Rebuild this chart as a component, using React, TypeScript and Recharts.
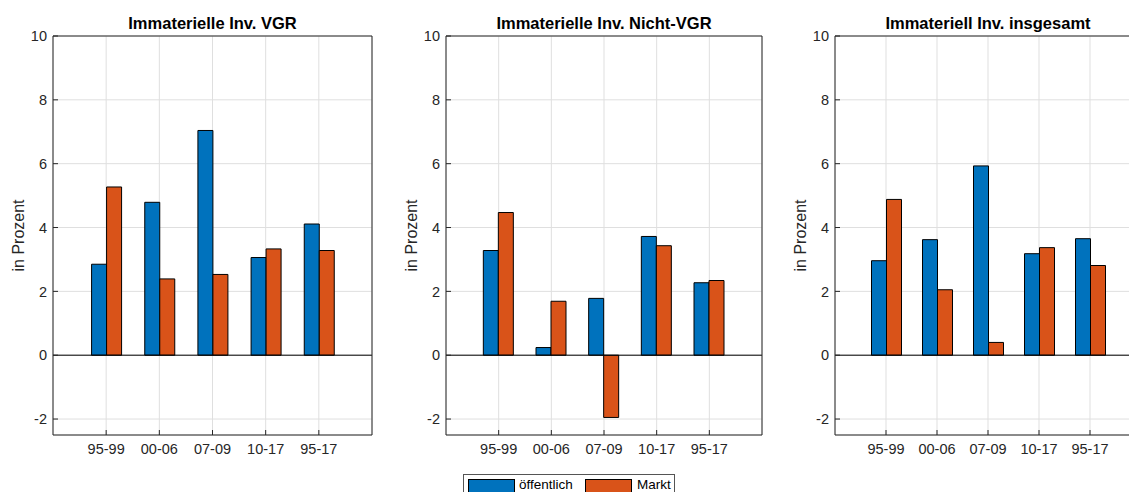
import { BarChart, Bar, XAxis, YAxis, CartesianGrid, ReferenceLine, Label } from 'recharts';

const categories = ['95-99', '00-06', '07-09', '10-17', '95-17'];
const seriesNames = ['öffentlich', 'Markt'];
const yTicks = [-2, 0, 2, 4, 6, 8, 10];

const vgrOeffentlich = [2.85, 4.79, 7.04, 3.06, 4.11];
const vgrMarkt = [5.27, 2.39, 2.53, 3.33, 3.28];
const nichtVgrOeffentlich = [3.28, 0.24, 1.78, 3.72, 2.27];
const nichtVgrMarkt = [4.47, 1.69, -1.95, 3.43, 2.34];
const gesamtOeffentlich = [2.96, 3.62, 5.93, 3.18, 3.65];
const gesamtMarkt = [4.88, 2.05, 0.4, 3.37, 2.81];

const BLUE = '#0072BD';
const ORANGE = '#D95319';
const AXIS = '#262626';
const GRID = '#dfdfdf';
const FONT = '"Liberation Sans", Arial, Helvetica, sans-serif';

const toRows = (pub: number[], mkt: number[]) =>
  categories.map((cat, i) => ({ cat, pub: pub[i], mkt: mkt[i] }));

const panels = [
  { title: 'Immaterielle Inv. VGR', data: toRows(vgrOeffentlich, vgrMarkt), plotLeft: 53, plotRight: 372 },
  { title: 'Immaterielle Inv. Nicht-VGR', data: toRows(nichtVgrOeffentlich, nichtVgrMarkt), plotLeft: 446, plotRight: 762 },
  { title: 'Immateriell Inv. insgesamt', data: toRows(gesamtOeffentlich, gesamtMarkt), plotLeft: 835, plotRight: 1141 },
];

const PLOT_TOP = 36;
const PLOT_BOTTOM = 435;
const HEIGHT = 492;
const YAXIS_W = 60;

function YLabel(props: any) {
  const vb = props.viewBox || {};
  const cx = vb.x + vb.width - 35;
  const cy = vb.y + vb.height / 2;
  return (
    <text
      x={cx}
      y={cy}
      transform={`rotate(-90, ${cx}, ${cy})`}
      textAnchor="middle"
      dominantBaseline="central"
      fontSize={16}
      fill={AXIS}
      fontFamily={FONT}
    >
      in Prozent
    </text>
  );
}

function Panel({ title, data, plotLeft, plotRight }: { title: string; data: any[]; plotLeft: number; plotRight: number }) {
  const plotW = plotRight - plotLeft;
  const width = plotW + YAXIS_W + 2;
  const pad = plotW / 12;
  return (
    <div style={{ position: 'absolute', left: plotLeft - YAXIS_W, top: 0 }}>
      <BarChart
        width={width}
        height={HEIGHT}
        data={data}
        barSize={15}
        barGap={0}
        margin={{ top: PLOT_TOP - 2, right: 0, left: 0, bottom: HEIGHT - PLOT_BOTTOM - 30 }}
        style={{ fontFamily: FONT }}
      >
        <CartesianGrid stroke={GRID} strokeWidth={1} />
        <XAxis
          dataKey="cat"
          padding={{ left: pad, right: pad }}
          height={30}
          interval={0}
          tickSize={-5}
          tickMargin={14}
          tick={{ fill: AXIS, fontSize: 14.5 }}
          stroke={AXIS}
          tickLine={{ stroke: AXIS }}
          axisLine={{ stroke: AXIS }}
        />
        <XAxis
          xAxisId="top"
          orientation="top"
          dataKey="cat"
          padding={{ left: pad, right: pad }}
          height={2}
          interval={0}
          tickSize={-5}
          tick={false}
          stroke={AXIS}
          axisLine={{ stroke: AXIS }}
          tickLine={{ stroke: AXIS }}
        >
          <Label value={title} position="top" offset={5} fontSize={16.5} fontWeight="bold" fill="#000" />
        </XAxis>
        <YAxis
          width={YAXIS_W}
          domain={[-2.5, 10]}
          ticks={yTicks}
          interval={0}
          allowDataOverflow
          tickSize={-5}
          tickMargin={11}
          tick={{ fill: AXIS, fontSize: 14.5 }}
          stroke={AXIS}
          axisLine={{ stroke: AXIS }}
          tickLine={{ stroke: AXIS }}
        >
          <Label content={YLabel} />
        </YAxis>
        <YAxis
          yAxisId="r"
          orientation="right"
          width={2}
          domain={[-2.5, 10]}
          ticks={yTicks}
          interval={0}
          allowDataOverflow
          tickSize={-5}
          tick={false}
          stroke={AXIS}
          axisLine={{ stroke: AXIS }}
          tickLine={{ stroke: AXIS }}
        />
        <Bar dataKey="pub" name={seriesNames[0]} fill={BLUE} stroke="#000" strokeWidth={1} isAnimationActive={false} />
        <Bar dataKey="mkt" name={seriesNames[1]} fill={ORANGE} stroke="#000" strokeWidth={1} isAnimationActive={false} />
        <ReferenceLine y={0} stroke="#000" strokeWidth={1} />
      </BarChart>
    </div>
  );
}

function LegendBox() {
  const patch = (color: string) => ({
    position: 'absolute' as const,
    left: 0,
    top: 0,
    width: 47,
    height: 18,
    background: color,
    border: '1px solid #000',
    boxSizing: 'border-box' as const,
  });
  const label = (left: number) => ({
    position: 'absolute' as const,
    left,
    top: -3,
    lineHeight: '18px',
  });
  return (
    <div
      style={{
        position: 'absolute',
        left: 463,
        top: 474,
        width: 212,
        height: 30,
        border: '1px solid #555',
        boxSizing: 'border-box',
        background: '#fff',
        fontFamily: FONT,
        fontSize: 13.5,
        color: '#000',
        whiteSpace: 'nowrap',
      }}
    >
      <div style={{ position: 'absolute', left: 4, top: 4 }}>
        <span style={patch(BLUE)} />
        <span style={label(51)}>{seriesNames[0]}</span>
      </div>
      <div style={{ position: 'absolute', left: 121, top: 4 }}>
        <span style={patch(ORANGE)} />
        <span style={label(52)}>{seriesNames[1]}</span>
      </div>
    </div>
  );
}

export default function App() {
  return (
    <div
      style={{
        position: 'fixed',
        left: 0,
        top: 0,
        width: 1129,
        height: HEIGHT,
        overflow: 'hidden',
        background: '#fff',
      }}
    >
      {panels.map((p) => (
        <Panel key={p.title} {...p} />
      ))}
      <LegendBox />
    </div>
  );
}
